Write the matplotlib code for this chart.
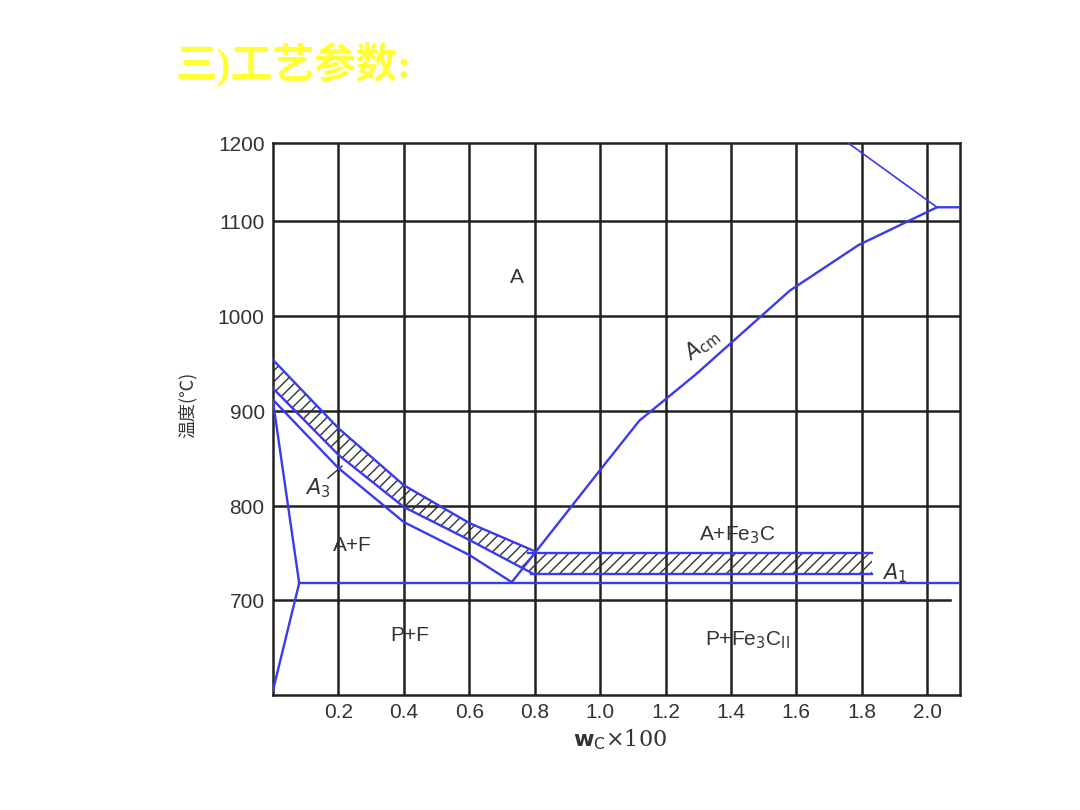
import numpy as np
import matplotlib
matplotlib.use("Agg")
import matplotlib.pyplot as plt

plt.rcParams['font.family'] = ['Liberation Sans', 'Noto Sans CJK SC', 'DejaVu Sans']

# temperature axis: non-uniform scale as in the picture
t_knots = [600, 700, 800, 900, 1000, 1100, 1200]
u_knots = [-695, -600, -506, -411, -316, -221, -143]
def U(t):
    return np.interp(t, t_knots, u_knots)

xticks = [0.2, 0.4, 0.6, 0.8, 1.0, 1.2, 1.4, 1.6, 1.8, 2.0]
yticks = [700, 800, 900, 1000, 1100, 1200]

# hypoeutectoid band lines
top_x = [0.0, 0.2, 0.4, 0.6, 0.8]
top_t = [954, 882, 822, 782, 752]
mid_x = [0.0, 0.2, 0.4, 0.6, 0.79]
mid_t = [924, 854, 799, 764, 729]
a3_x = [0.0, 0.2, 0.4, 0.6, 0.73]
a3_t = [912, 840, 783, 748, 719]
# Acm line
acm_x = [0.73, 1.0, 1.12, 1.29, 1.58, 1.79, 2.03, 2.1]
acm_t = [719, 838, 890, 938, 1027, 1075, 1118, 1118]
# upper line to 1200
liq_x = [2.03, 1.76]
liq_t = [1118, 1200]
# ferrite boundary
fer_x = [0.0, 0.08, 0.0]
fer_t = [910, 718, 605]
# eutectoid hatch band
band_x = [0.8, 1.83]
band_hi, band_lo = 750, 728
a1_t = 718

fig = plt.figure(figsize=(10.8, 8.1), dpi=100)
ax = fig.add_axes([0.2528, 0.142, 0.636, 0.681])
ax.set_xlim(0, 2.1)
ax.set_ylim(-695, -143)

# grid
for x in xticks:
    ax.axvline(x, color='#222222', lw=1.8, zorder=1)
for t in [800, 900, 1000, 1100]:
    ax.axhline(U(t), color='#222222', lw=1.8, zorder=1)
ax.plot([0, 2.07], [U(700)] * 2, color='#222222', lw=1.8, zorder=1)
for s in ax.spines.values():
    s.set_color('#222222'); s.set_linewidth(1.8)

blue = '#3a3af0'
# hatched regions
xs = np.linspace(0, 0.8, 60)
ax.fill_between(xs, U(np.interp(xs, mid_x, mid_t)), U(np.interp(xs, top_x, top_t)),
                facecolor='none', edgecolor='#333333', hatch='///', lw=0, zorder=2)
ax.fill_between(band_x, [U(band_lo)] * 2, [U(band_hi)] * 2,
                facecolor='none', edgecolor='#333333', hatch='///', lw=0, zorder=2)
kw = dict(color=blue, lw=1.7, zorder=3)
ax.plot(top_x, U(np.array(top_t)), **kw)
ax.plot(mid_x, U(np.array(mid_t)), **kw)
ax.plot(a3_x, U(np.array(a3_t)), **kw)
ax.plot(acm_x, U(np.array(acm_t)), **kw)
ax.plot(liq_x, U(np.array(liq_t)), color=blue, lw=1.2, zorder=3)
ax.plot(fer_x, U(np.array(fer_t)), **kw)
ax.plot([0.78, 1.83], [U(band_hi)] * 2, **kw)
ax.plot([0.79, 1.83], [U(band_lo)] * 2, **kw)
ax.plot([0.08, 2.1], [U(a1_t)] * 2, **kw)

ax.set_xticks(xticks)
ax.set_xticklabels([f"{v:.1f}" for v in xticks])
ax.set_yticks(U(np.array(yticks)))
ax.set_yticklabels([str(v) for v in yticks])
ax.tick_params(length=0, labelsize=15, colors='#333333', pad=6)

tk = dict(fontsize=15, color='#333333', ha='center', va='center', zorder=5)
def P(px, py):
    return (px - 273) / 327.5, -py
ax.text(*P(517, 277), "A", **tk)
ax.text(*P(352, 545), "A+F", **tk)
ax.text(*P(410, 635), "P+F", **tk)
ax.text(*P(738, 535), "A+Fe$_3$C", **tk)
ax.text(*P(748, 640), "P+Fe$_3$C$_{\\rm II}$", **tk)
ax.text(*P(318, 488), "$A_3$", **tk)
ax.plot(*zip(P(328, 478), P(342, 466)), color='#333333', lw=1)
ax.text(*P(895, 573), "$A_1$", **tk)
ax.text(*P(702, 345), "$A_{\\rm cm}$", rotation=38, **tk)

fig.text(620 / 1080, 1 - 740 / 810, "$\\mathbf{w}_{\\rm C}$×100", fontsize=16,
         color='#333333', ha='center', va='center', family='DejaVu Serif')
fig.text(188 / 1080, 1 - 405 / 810, "温度(℃)", rotation=90, fontsize=13,
         color='#333333', ha='center', va='center',
         family=['Noto Sans CJK SC', 'DejaVu Sans'])
fig.text(175 / 1080, 1 - 65 / 810, "三)工艺参数:", fontsize=30, color='#ffff33',
         fontweight='bold', ha='left', va='center',
         family=['Liberation Serif', 'Noto Sans CJK SC', 'DejaVu Sans'])

fig.savefig("out.png", dpi=100, facecolor='white')
